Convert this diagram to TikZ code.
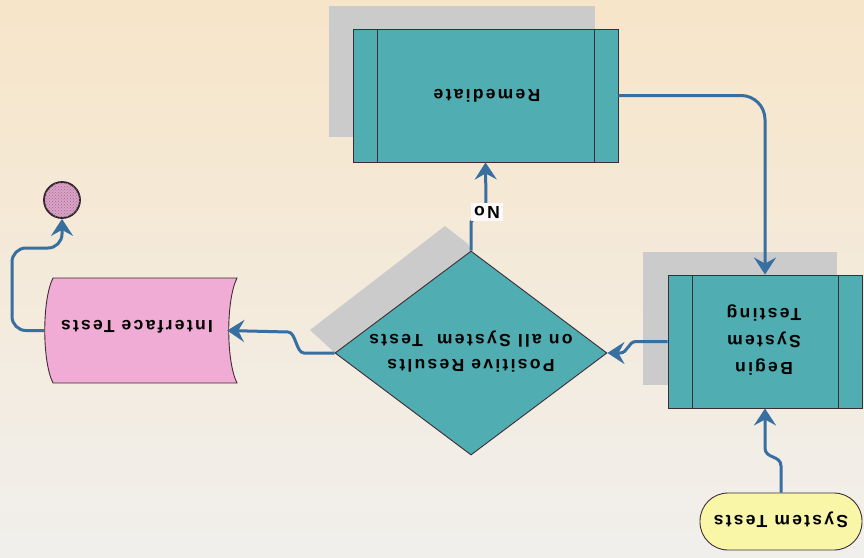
\documentclass[tikz,border=0pt]{standalone}
\usepackage{fontspec}
\usepackage{graphicx}
\setmainfont{Liberation Sans}[LetterSpace=13]
\usetikzlibrary{arrows.meta,shapes.geometric,patterns}
\definecolor{bgtop}{RGB}{247,229,201}
\definecolor{bgbot}{RGB}{241,239,236}
\definecolor{tealfill}{RGB}{80,174,178}
\definecolor{edgecol}{RGB}{60,45,55}
\definecolor{shadowgray}{RGB}{203,203,203}
\definecolor{pinkfill}{RGB}{240,172,212}
\definecolor{yellowfill}{RGB}{250,246,168}
\definecolor{flowblue}{RGB}{55,112,160}
\definecolor{dotbase}{RGB}{222,160,200}
\definecolor{dotcol}{RGB}{140,120,130}
\newcommand{\flip}[1]{\rotatebox{180}{#1}}
\tikzset{
  procbox/.style={draw=edgecol, line width=0.9pt, fill=tealfill, rectangle, inner sep=0pt,
    path picture={\draw[edgecol, line width=0.9pt]
      ([xshift=24pt]path picture bounding box.north west) -- ([xshift=24pt]path picture bounding box.south west)
      ([xshift=-24pt]path picture bounding box.north east) -- ([xshift=-24pt]path picture bounding box.south east);}},
  decision/.style={draw=edgecol, line width=0.9pt, fill=tealfill, diamond, inner sep=0pt},
  terminal/.style={draw=edgecol, line width=0.9pt, fill=yellowfill, rectangle, rounded corners=28pt, inner sep=0pt},
  endcirc/.style={draw=edgecol!80!black, line width=1.8pt, circle, inner sep=0pt, fill=dotbase,
    postaction={pattern=crosshatch dots, pattern color=dotcol}},
  flow/.style={draw=flowblue, line width=3pt, -{Stealth[length=17pt,width=22pt,inset=6pt]}},
  lbl/.style={font=\bfseries\fontsize{17.5}{26}\selectfont, text=black, align=center},
}
\begin{document}
\begin{tikzpicture}[x=1pt,y=-1pt]
\useasboundingbox (0,0) rectangle (864,557);
\shade[top color=bgtop, bottom color=bgbot] (0,0) rectangle (864,557);

% shadows
\fill[shadowgray] (329,6) rectangle (595,137);
\fill[shadowgray] (643,252) rectangle (837,385);
\fill[shadowgray] (310,330) -- (445,226) -- (468,244) -- (471,251) -- (335,353) -- cycle;

% nodes
\node[procbox, minimum width=265pt, minimum height=133pt] (rem) at (485.5,95.5) {};
\node[lbl] at (487,96) {\flip{Remediate}};

\node[procbox, minimum width=194pt, minimum height=133pt] (beg) at (765,341.5) {};
\node[lbl] at (764,341) {\flip{\begin{tabular}{c}Begin\\[1pt] System\\[1pt] Testing\end{tabular}}};

\node[decision, minimum width=272pt, minimum height=204pt] (dia) at (471,353) {};
\node[lbl] at (471,352) {\flip{\begin{tabular}{c}Positive Results\\[-1pt] on all System~~Tests\end{tabular}}};

\node[terminal, minimum width=162pt, minimum height=57pt] (term) at (781,521.5) {};
\node[lbl] at (781,520) {\flip{System Tests}};

\fill[pinkfill, draw=edgecol, line width=0.9pt] (53,278) -- (237,278)
  .. controls (226,300) and (226,361) .. (237,383) -- (53,383)
  .. controls (42,361) and (42,300) .. (53,278) -- cycle;
\node[minimum width=182pt, minimum height=105pt, inner sep=0pt] (itf) at (136,330.5) {};
\node[lbl] at (137,327) {\flip{Interface Tests}};

\node[endcirc, minimum size=36pt] (circ) at (62,200) {};

% connectors
\draw[flow] (term.north) -- (781,466) .. controls (781,455) and (765,459) .. (765,448) -- (beg.south);
\draw[flow, rounded corners=24pt] (rem.east) -| (beg.north);
\draw[flow] (beg.west) -- (636,341.5) .. controls (628,341.5) and (628,353) .. (620,353) -- (dia.east);
\draw[flow] (dia.north) -- (471,222) -- (486,205) -- (rem.south);
\node[lbl, fill=white!70!bgbot, inner sep=3pt] (no) at (487,212) {\flip{No}};
\draw[flow] (dia.west) -- (304,353) .. controls (296,353) and (296,332) .. (288,332) -- (itf.east);
\draw[flow, rounded corners=14pt] (itf.west) -- (12,330.5) -- (12,248) -- (62,248) -- (circ.south);
\end{tikzpicture}
\end{document}
